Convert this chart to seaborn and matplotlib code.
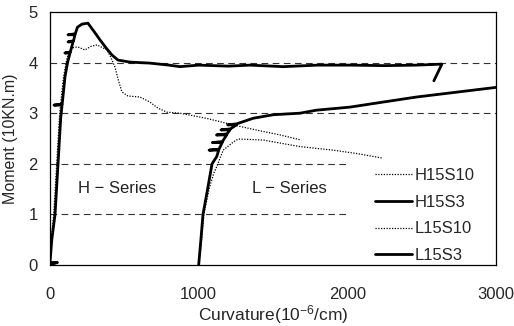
import matplotlib
matplotlib.use("Agg")
import matplotlib.pyplot as plt
import seaborn as sns
import pandas as pd

# ---- data ----
h15s10_x = [0, 8, 25, 45, 65, 90, 115, 134, 160, 188, 235, 275, 316, 350, 383, 410, 437, 460, 484,
            524, 605, 672, 726, 787, 874, 1050, 1231, 1400, 1547, 1690]
h15s10_y = [0, 0.5, 1.0, 2.0, 3.0, 3.7, 4.1, 4.25, 4.3, 4.31, 4.25, 4.32, 4.35, 4.3, 4.25, 4.1, 3.91, 3.65, 3.42,
            3.34, 3.32, 3.22, 3.1, 3.02, 3.0, 2.9, 2.77, 2.66, 2.57, 2.47]

h15s3_x = [0, 50, 0, 12, 34, 54, 72, 81, 27, 82, 101, 118, 135, 100, 137, 155, 121, 158, 168, 121, 170,
           185, 215, 255, 300, 336, 380, 417, 457, 538, 672, 800, 874, 1000, 1200, 1345, 1569, 1800,
           2017, 2250, 2466, 2636, 2582]
h15s3_y = [0, 0.05, 0.05, 0.5, 1.0, 2.0, 2.9, 3.16, 3.16, 3.18, 3.72, 4.0, 4.19, 4.19, 4.21, 4.41, 4.41, 4.43,
           4.55, 4.55, 4.57, 4.7, 4.76, 4.78, 4.6, 4.45, 4.28, 4.15, 4.05, 4.01, 3.99, 3.95, 3.92, 3.95,
           3.93, 3.95, 3.92, 3.95, 3.95, 3.94, 3.95, 3.97, 3.64]

l15s10_x = [1000, 1020, 1035, 1070, 1100, 1121, 1165, 1233, 1266, 1350, 1435, 1547, 1681, 1903, 2070, 2240]
l15s10_y = [0, 0.5, 1.0, 1.5, 1.8, 1.94, 2.27, 2.43, 2.49, 2.48, 2.47, 2.41, 2.34, 2.27, 2.2, 2.11]

l15s3_x = [1000, 1015, 1029, 1060, 1090, 1121, 1135, 1070, 1137, 1158, 1092, 1160, 1188, 1120, 1190,
           1211, 1150, 1213, 1255, 1195, 1258, 1266, 1367, 1502, 1681, 1793, 2017, 2240, 2466, 2690, 3000]
l15s3_y = [0, 0.5, 1.0, 1.5, 2.0, 2.14, 2.27, 2.27, 2.29, 2.42, 2.42, 2.44, 2.57, 2.57, 2.59,
           2.67, 2.67, 2.69, 2.77, 2.77, 2.79, 2.8, 2.9, 2.97, 3.0, 3.06, 3.12, 3.22, 3.32, 3.4, 3.51]

series_names = ["H15S10", "H15S3", "L15S10", "L15S3"]
x_ticks = [0, 1000, 2000, 3000]
y_ticks = [0, 1, 2, 3, 4, 5]

sns.set_style("white")
plt.rcParams["font.family"] = ["Liberation Sans", "DejaVu Sans"]
plt.rcParams["mathtext.fontset"] = "custom"
plt.rcParams["mathtext.rm"] = "Liberation Sans"
plt.rcParams["mathtext.it"] = "Liberation Sans"

fig = plt.figure(figsize=(5.14, 3.26), dpi=100)
ax = fig.add_axes([50/514, 1-265/326, (496-50)/514, (265-12)/326])

# dashed grid lines
dash = (0, (6, 4))
for yv in [3, 4]:
    ax.axhline(yv, color="#333333", lw=0.8, ls=dash, zorder=1)
ax.hlines([1, 2], 0, 2020, color="#333333", lw=0.8, ls=dash, zorder=1)

data = [
    (h15s10_x, h15s10_y, series_names[0], 0.9, (0, (1, 1.2))),
    (h15s3_x, h15s3_y, series_names[1], 2.0, "-"),
    (l15s10_x, l15s10_y, series_names[2], 0.9, (0, (1, 1.2))),
    (l15s3_x, l15s3_y, series_names[3], 2.0, "-"),
]
for xs, ys, name, lw, ls in data:
    df = pd.DataFrame({"x": xs, "y": ys})
    sns.lineplot(data=df, x="x", y="y", sort=False, estimator=None, color="black",
                 lw=lw, linestyle=ls, label=name, ax=ax, zorder=3)

ax.set_xlim(0, 3000)
ax.set_ylim(0, 5)
ax.set_xticks(x_ticks)
ax.set_yticks(y_ticks)
ax.tick_params(axis="x", direction="in", length=4, pad=15.5, labelsize=12, color="black")
ax.tick_params(axis="y", direction="in", length=4, pad=9, labelsize=12, color="black")
for sp in ax.spines.values():
    sp.set_color("black")
    sp.set_linewidth(0.9)

ax.set_xlabel("Curvature(10$^{-6}$/cm)", fontsize=12.5, labelpad=1)
ax.set_ylabel("Moment (10KN.m)", fontsize=11.5, labelpad=7)

ax.text(188, 1.52, "H \u2212 Series", fontsize=12, va="center", ha="left", color="#222222")
ax.text(1358, 1.52, "L \u2212 Series", fontsize=12, va="center", ha="left", color="#222222")

leg = ax.legend(loc="lower right", bbox_to_anchor=(0.964, -0.012), frameon=False, fontsize=12,
                handlelength=2.2, handletextpad=0.2, labelspacing=0.7, borderpad=0.3,
                borderaxespad=0.0)

fig.savefig("out.png", dpi=100)
